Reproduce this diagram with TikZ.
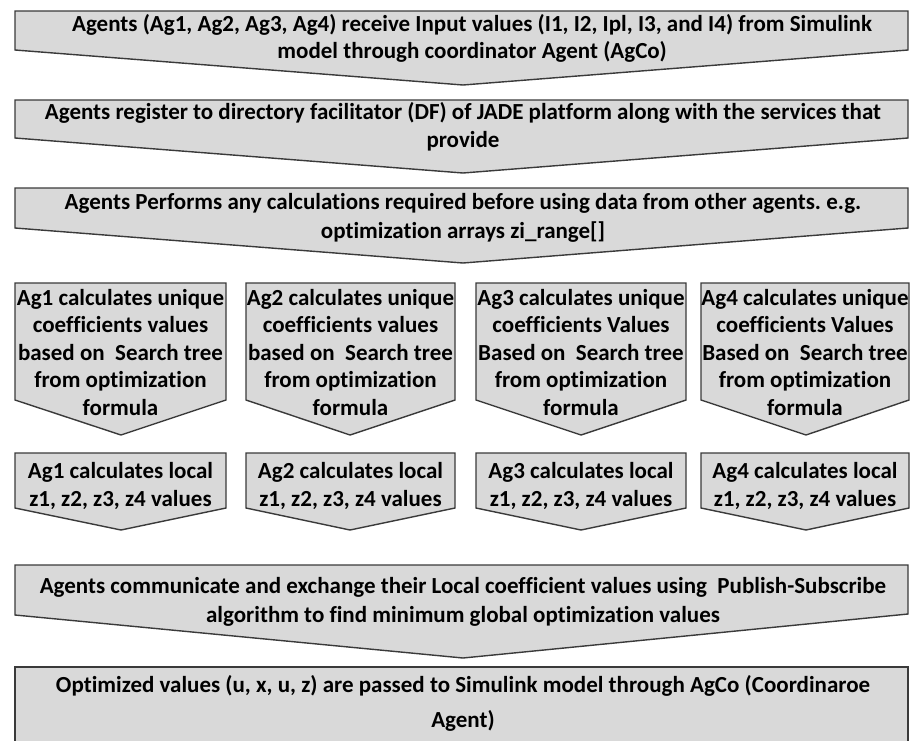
\documentclass[tikz,border=0pt]{standalone}
\usepackage{fontspec}
\setmainfont{Carlito}[Ligatures=NoCommon]
\frenchspacing
\definecolor{boxfill}{HTML}{D9D9D9}
\definecolor{boxline}{HTML}{3A3A3A}
\newcommand\lblsize[1]{\fontsize{23}{#1}\selectfont}
\tikzset{
  chevron/.style={fill=boxfill, draw=boxline, line width=1.4pt, line join=miter},
  lbl/.style={align=center, inner sep=0pt, text=black},
}
\begin{document}
\begin{tikzpicture}[x=1pt, y=-1pt]
\useasboundingbox (0,0) rectangle (910,740);
\clip (0,0) rectangle (910,740);

% full-width steps
\draw[chevron] (15,11) -- (908,11) -- (908,50) -- (463,85) -- (15,50) -- cycle;
\node[lbl, font=\bfseries\lblsize{27}] (s1) at (472,39.6)
  {\strut Agents (Ag1, Ag2, Ag3, Ag4) receive Input values (I1, I2, Ipl, I3, and I4) from Simulink\\
   model through coordinator Agent (AgCo)\strut};

\draw[chevron] (15,100) -- (908,100) -- (908,138) -- (463,173) -- (15,138) -- cycle;
\node[lbl, font=\bfseries\lblsize{28}] (s2) at (463,127.4)
  {\strut Agents register to directory facilitator (DF) of JADE platform along with the services that\\
   provide\strut};

\draw[chevron] (15,188) -- (908,188) -- (908,228) -- (463,263) -- (15,228) -- cycle;
\node[lbl, font=\bfseries\lblsize{29}] (s3) at (463,217.7)
  {\strut Agents Performs any calculations required before using data from other agents. e.g.\\
   optimization arrays zi\_range[]\strut};

% per-agent coefficient steps
\draw[chevron] (15,283) -- (226,283) -- (226,400) -- (121,435) -- (15,400) -- cycle;
\draw[chevron] (246,283) -- (455,283) -- (455,400) -- (350,435) -- (246,400) -- cycle;
\draw[chevron] (476,283) -- (686,283) -- (686,400) -- (581,435) -- (476,400) -- cycle;
\draw[chevron] (701,283) -- (909,283) -- (909,400) -- (806,435) -- (701,400) -- cycle;
\node[lbl, font=\bfseries\lblsize{27.5}] (c1) at (120.5,354.5)
  {\strut Ag1 calculates unique\\ coefficients values\\ based on \ Search tree\\ from optimization\\ formula\strut};
\node[lbl, font=\bfseries\lblsize{27.5}] (c2) at (350.5,354.5)
  {\strut Ag2 calculates unique\\ coefficients values\\ based on \ Search tree\\ from optimization\\ formula\strut};
\node[lbl, font=\bfseries\lblsize{27.5}] (c3) at (581,354.5)
  {\strut Ag3 calculates unique\\ coefficients Values\\ Based on \ Search tree\\ from optimization\\ formula\strut};
\node[lbl, font=\bfseries\lblsize{27.5}] (c4) at (805,354.5)
  {\strut Ag4 calculates unique\\ coefficients Values\\ Based on \ Search tree\\ from optimization\\ formula\strut};

% per-agent local value steps
\draw[chevron] (15,453) -- (226,453) -- (226,508) -- (121,530) -- (15,508) -- cycle;
\draw[chevron] (246,453) -- (455,453) -- (455,508) -- (350,530) -- (246,508) -- cycle;
\draw[chevron] (476,453) -- (686,453) -- (686,508) -- (581,530) -- (476,508) -- cycle;
\draw[chevron] (701,453) -- (909,453) -- (909,508) -- (806,530) -- (701,508) -- cycle;
\node[lbl, font=\bfseries\lblsize{28}] (l1) at (120.5,487.3)
  {\strut Ag1 calculates local\\ z1, z2, z3, z4 values\strut};
\node[lbl, font=\bfseries\lblsize{28}] (l2) at (350.5,487.3)
  {\strut Ag2 calculates local\\ z1, z2, z3, z4 values\strut};
\node[lbl, font=\bfseries\lblsize{28}] (l3) at (581,487.3)
  {\strut Ag3 calculates local\\ z1, z2, z3, z4 values\strut};
\node[lbl, font=\bfseries\lblsize{28}] (l4) at (805,487.3)
  {\strut Ag4 calculates local\\ z1, z2, z3, z4 values\strut};

% exchange and output steps
\draw[chevron] (15,565) -- (908,565) -- (908,614) -- (463,658) -- (15,615) -- cycle;
\node[lbl, font=\bfseries\lblsize{29}] (s6) at (463,602.2)
  {\strut Agents communicate and exchange their Local coefficient values using \ Publish-Subscribe\\
   algorithm to find minimum global optimization values\strut};

\draw[chevron] (15,667) -- (908,667) -- (908,780) -- (15,780) -- cycle;
\node[lbl, font=\bfseries\lblsize{35}] (s7) at (463,703)
  {\strut Optimized values (u, x, u, z) are passed to Simulink model through AgCo (Coordinaroe\\
   Agent)\strut};
\end{tikzpicture}
\end{document}
